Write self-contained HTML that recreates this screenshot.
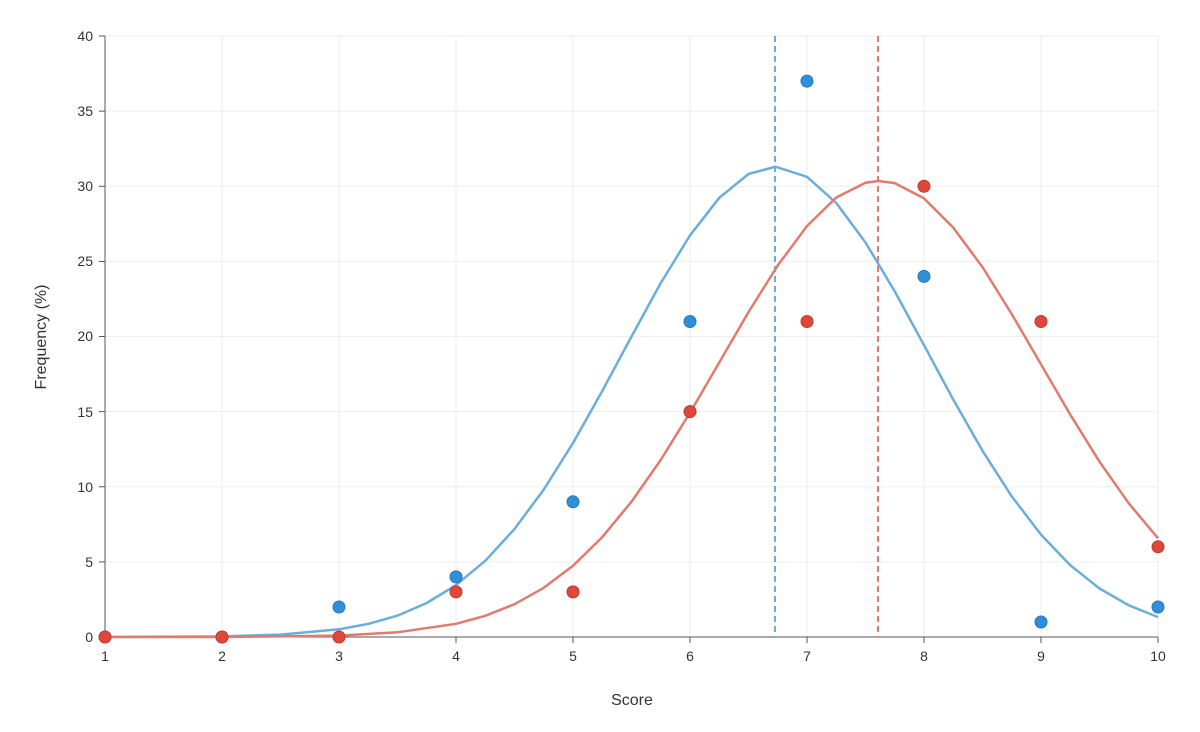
<!DOCTYPE html>
<html><head><meta charset="utf-8"><style>
body{margin:0;background:#fff;}
svg text{font-family:"Liberation Sans",sans-serif;fill:#333;}
</style></head><body>
<svg width="1200" height="727" xmlns="http://www.w3.org/2000/svg">
<g stroke="#eee" stroke-width="1">
<line x1="222" y1="36" x2="222" y2="637"/><line x1="339" y1="36" x2="339" y2="637"/><line x1="456" y1="36" x2="456" y2="637"/><line x1="573" y1="36" x2="573" y2="637"/><line x1="690" y1="36" x2="690" y2="637"/><line x1="807" y1="36" x2="807" y2="637"/><line x1="924" y1="36" x2="924" y2="637"/><line x1="1041" y1="36" x2="1041" y2="637"/><line x1="1158" y1="36" x2="1158" y2="637"/>
<line x1="105" y1="561.9" x2="1158" y2="561.9"/><line x1="105" y1="486.75" x2="1158" y2="486.75"/><line x1="105" y1="411.6" x2="1158" y2="411.6"/><line x1="105" y1="336.5" x2="1158" y2="336.5"/><line x1="105" y1="261.4" x2="1158" y2="261.4"/><line x1="105" y1="186.25" x2="1158" y2="186.25"/><line x1="105" y1="111.1" x2="1158" y2="111.1"/><line x1="105" y1="36" x2="1158" y2="36"/>
</g>
<g stroke="#555" stroke-width="1">
<line x1="105" y1="36" x2="105" y2="637"/><line x1="105" y1="637" x2="1158" y2="637"/>
<line x1="105" y1="637" x2="105" y2="643"/><line x1="222" y1="637" x2="222" y2="643"/><line x1="339" y1="637" x2="339" y2="643"/><line x1="456" y1="637" x2="456" y2="643"/><line x1="573" y1="637" x2="573" y2="643"/><line x1="690" y1="637" x2="690" y2="643"/><line x1="807" y1="637" x2="807" y2="643"/><line x1="924" y1="637" x2="924" y2="643"/><line x1="1041" y1="637" x2="1041" y2="643"/><line x1="1158" y1="637" x2="1158" y2="643"/>
<line x1="99" y1="637" x2="105" y2="637"/><line x1="99" y1="561.9" x2="105" y2="561.9"/><line x1="99" y1="486.75" x2="105" y2="486.75"/><line x1="99" y1="411.6" x2="105" y2="411.6"/><line x1="99" y1="336.5" x2="105" y2="336.5"/><line x1="99" y1="261.4" x2="105" y2="261.4"/><line x1="99" y1="186.25" x2="105" y2="186.25"/><line x1="99" y1="111.1" x2="105" y2="111.1"/><line x1="99" y1="36" x2="105" y2="36"/>
</g>
<g font-size="14" text-anchor="middle">
<text x="105" y="661">1</text><text x="222" y="661">2</text><text x="339" y="661">3</text><text x="456" y="661">4</text><text x="573" y="661">5</text><text x="690" y="661">6</text><text x="807" y="661">7</text><text x="924" y="661">8</text><text x="1041" y="661">9</text><text x="1158" y="661">10</text>
</g>
<g font-size="14" text-anchor="end">
<text x="93" y="642">0</text><text x="93" y="567">5</text><text x="93" y="492">10</text><text x="93" y="417">15</text><text x="93" y="341">20</text><text x="93" y="266">25</text><text x="93" y="191">30</text><text x="93" y="116">35</text><text x="93" y="41">40</text>
</g>
<text x="632" y="705" font-size="16" text-anchor="middle">Score</text>
<text transform="translate(46,337) rotate(-90)" font-size="16" text-anchor="middle">Frequency (%)</text>
<line x1="775" y1="36" x2="775" y2="637" stroke="#6aaedc" stroke-width="2" stroke-dasharray="6,4"/>
<line x1="878" y1="36" x2="878" y2="637" stroke="#e07b6e" stroke-width="2" stroke-dasharray="6,4"/>
<polyline fill="none" stroke="#6aaedc" stroke-width="2.5" stroke-linejoin="round" points="105,637 222,636.4 280.5,634.6 339,629.3 368.25,623.9 397.5,615.6 426.75,603 456,585.1 485.25,560.8 514.5,529 543.75,489.6 573,443 602.25,391 631.5,336.5 660.75,283 690,235.4 719.25,197.8 748.5,174 775.4,166.7 807,176.8 836.25,203 865.5,242.5 894.75,291.4 924,345.2 953.25,399.6 982.5,450.8 1011.75,496.4 1041,534.6 1070.25,565.2 1099.5,588.5 1128.75,605.3 1158,617.1"/>
<polyline fill="none" stroke="#e07b6e" stroke-width="2.5" stroke-linejoin="round" points="105,637 222,637 339,635.6 397.5,632.3 456,623.8 485.25,615.8 514.5,604.2 543.75,587.8 573,565.8 602.25,537.1 631.5,501.7 660.75,459.9 690,412.7 719.25,362.5 748.5,312.1 777.75,265.4 807,226 836.25,197.5 865.5,182.8 878.5,181 894.75,183.1 924,198.4 953.25,227.6 982.5,267.1 1011.75,314.1 1041,364.4 1070.25,414.6 1099.5,461.7 1128.75,503.3 1158,538.3"/>
<g fill="#2f8fd8" stroke="#2878b8">
<circle cx="105" cy="637" r="6"/><circle cx="222" cy="637" r="6"/><circle cx="339" cy="607" r="6"/><circle cx="456" cy="576.9" r="6"/><circle cx="573" cy="501.8" r="6"/><circle cx="690" cy="321.5" r="6"/><circle cx="807" cy="81.1" r="6"/><circle cx="924" cy="276.4" r="6"/><circle cx="1041" cy="622" r="6"/><circle cx="1158" cy="607" r="6"/>
</g>
<g fill="#e0473a" stroke="#c03a2e">
<circle cx="105" cy="637" r="6"/><circle cx="222" cy="637" r="6"/><circle cx="339" cy="637" r="6"/><circle cx="456" cy="591.9" r="6"/><circle cx="573" cy="591.9" r="6"/><circle cx="690" cy="411.6" r="6"/><circle cx="807" cy="321.5" r="6"/><circle cx="924" cy="186.25" r="6"/><circle cx="1041" cy="321.5" r="6"/><circle cx="1158" cy="546.8" r="6"/>
</g>
</svg>
</body></html>
